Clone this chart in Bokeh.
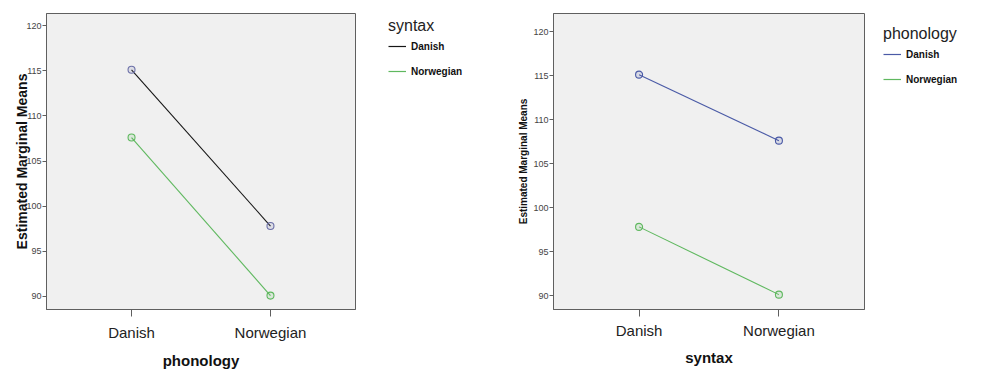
from bokeh.plotting import figure
from bokeh.models import FactorRange, Range1d, Legend, LegendItem, FixedTicker
from bokeh.layouts import row
from bokeh.embed import file_html
from bokeh.resources import INLINE

categories = ["Danish", "Norwegian"]
yticks = [90, 95, 100, 105, 110, 115, 120]

# Left chart: x = phonology, lines = syntax
left_syntax_danish = [115.1, 97.8]
left_syntax_norwegian = [107.6, 90.1]

# Right chart: x = syntax, lines = phonology
right_phon_danish = [115.1, 107.6]
right_phon_norwegian = [97.8, 90.1]

FONT = "Liberation Sans"
BG = "#f0f0f0"
FRAME = "#5f5f5f"
GREEN = "#5fb85f"
BLUE = "#4a5aa6"
BLACK = "#161616"
H = 372
TOP, BOTTOM = 13, 63
NAN = float("nan")


def make_fig(width, border_left, yr, xlabel, ylabel, ylabel_size,
             ylabel_standoff, xtick_standoff, xlabel_standoff, series):
    p = figure(width=width, height=H, output_backend="svg", toolbar_location=None,
               title=None,
               x_range=FactorRange(*categories, range_padding=0.112, range_padding_units="absolute"),
               y_range=Range1d(*yr),
               min_border_left=border_left, min_border_right=2,
               min_border_top=TOP, min_border_bottom=BOTTOM)
    p.background_fill_color = BG
    p.border_fill_color = "white"
    p.outline_line_color = FRAME
    p.outline_line_width = 1
    p.grid.visible = False

    ya = p.yaxis[0]
    ya.ticker = FixedTicker(ticks=yticks)
    ya.minor_tick_line_color = None
    ya.major_tick_in = 0
    ya.major_tick_out = 4
    ya.major_tick_line_color = FRAME
    ya.axis_line_color = FRAME
    ya.major_label_text_font = FONT
    ya.major_label_text_font_size = "9px"
    ya.major_label_text_color = "#444444"
    ya.major_label_standoff = 1
    ya.axis_label = ylabel
    ya.axis_label_text_font = FONT
    ya.axis_label_text_font_style = "bold"
    ya.axis_label_text_font_size = ylabel_size
    ya.axis_label_text_color = "#111111"
    ya.axis_label_standoff = ylabel_standoff

    xa = p.xaxis[0]
    xa.major_tick_in = 0
    xa.major_tick_out = 7
    xa.major_tick_line_color = FRAME
    xa.axis_line_color = FRAME
    xa.minor_tick_line_color = None
    xa.major_label_text_font = FONT
    xa.major_label_text_font_size = "15px"
    xa.major_label_text_color = "#222222"
    xa.major_label_standoff = xtick_standoff
    xa.axis_label = xlabel
    xa.axis_label_text_font = FONT
    xa.axis_label_text_font_style = "bold"
    xa.axis_label_text_font_size = "15px"
    xa.axis_label_text_color = "#111111"
    xa.axis_label_standoff = xlabel_standoff

    for name, vals, line_color, marker_color in series:
        p.line(x=categories, y=vals, line_color=line_color, line_width=1.1)
        p.scatter(x=categories, y=vals, marker="circle", size=7, line_color=marker_color,
                  fill_color=marker_color, fill_alpha=0.15, line_width=1.1)
    return p


def make_legend_fig(width, title, series, loc):
    q = figure(width=width, height=H, output_backend="svg", toolbar_location=None,
               title=None, x_axis_type=None, y_axis_type=None,
               x_range=Range1d(0, 1), y_range=Range1d(0, 1),
               min_border_left=0, min_border_right=0,
               min_border_top=TOP, min_border_bottom=BOTTOM)
    q.outline_line_color = None
    q.background_fill_color = "white"
    q.border_fill_color = "white"
    items = []
    for name, line_color in series:
        # legend-only renderer (draws nothing in the plot area)
        r = q.line(x=[NAN], y=[NAN], line_color=line_color, line_width=1.2)
        items.append(LegendItem(label=name, renderers=[r]))
    legend = Legend(items=items, title=title, location=loc)
    legend.title_text_font = FONT
    legend.title_text_font_size = "16px"
    legend.title_text_font_style = "normal"
    legend.title_text_color = "#222222"
    legend.title_standoff = 1
    legend.label_text_font = FONT
    legend.label_text_font_size = "10px"
    legend.label_text_font_style = "bold"
    legend.label_text_color = "#111111"
    legend.label_standoff = 5
    legend.label_height = 20
    legend.glyph_width = 18
    legend.glyph_height = 20
    legend.spacing = 5
    legend.padding = 0
    legend.margin = 0
    legend.border_line_color = None
    legend.background_fill_alpha = 0
    q.add_layout(legend, "center")
    return q


p1 = make_fig(357, 46, (88.56, 121.33), "phonology", "Estimated Marginal Means", "14px",
              -7, 7, 8,
              [("Danish", left_syntax_danish, BLACK, "#6c70a8"),
               ("Norwegian", left_syntax_norwegian, GREEN, GREEN)])
l1 = make_legend_fig(133, "syntax", [("Danish", BLACK), ("Norwegian", GREEN)], (31, 228))

p2 = make_fig(376, 63, (88.41, 122.05), "syntax", "Estimated Marginal Means", "10px",
              1, 5, 7,
              [("Danish", right_phon_danish, BLUE, BLUE),
               ("Norwegian", right_phon_norwegian, GREEN, GREEN)])
l2 = make_legend_fig(120, "phonology", [("Danish", BLUE), ("Norwegian", GREEN)], (17, 220))

layout = row(p1, l1, p2, l2)
open("out.html", "w").write(file_html(layout, INLINE))
